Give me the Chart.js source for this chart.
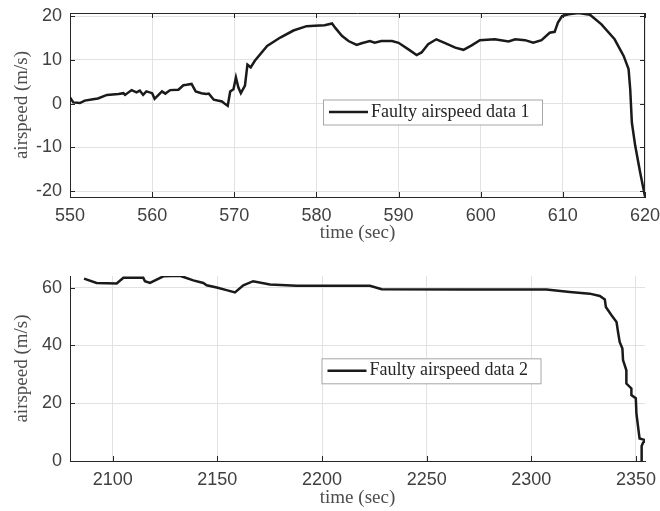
<!DOCTYPE html>
<html>
<head>
<meta charset="utf-8">
<script src="https://cdn.jsdelivr.net/npm/chart.js@4.4.1/dist/chart.umd.min.js"></script>
<style>
  html, body { margin: 0; padding: 0; background: #fff; }
  canvas { display: block; }
</style>
</head>
<body>
<canvas id="topChart" width="660" height="255"></canvas>
<canvas id="bottomChart" width="660" height="256"></canvas>
<script>
// flight 1: airspeed log around the first fault
const time1 = [550.0, 550.4, 551.2, 551.8, 552.8, 553.4, 554.5, 555.9, 556.5, 556.7, 557.5, 558.1, 558.5, 558.9,
  559.3, 560.0, 560.3, 561.2, 561.6, 562.2, 563.2, 563.8, 564.2, 564.8, 565.3, 566.0, 566.6, 566.9, 567.5,
  568.5, 568.9, 569.2, 569.5, 569.9, 570.2, 570.5, 570.8, 571.3, 571.6, 572.0, 572.5, 574.0, 575.6, 577.2,
  578.8, 579.8, 581.0, 581.9, 582.3, 583.1, 583.9, 584.9, 585.5, 586.5, 587.1, 587.9, 589.2, 590.0, 591.2,
  592.2, 592.8, 593.6, 594.6, 595.6, 596.9, 597.9, 598.9, 599.9, 601.7, 603.4, 604.2, 605.4, 606.4, 607.4,
  608.4, 609.0, 609.4, 609.9, 610.7, 611.9, 613.3, 614.7, 616.3, 617.4, 618.0, 618.2, 618.4, 618.8, 619.4, 620.0];
const speed1 = [1.4, 0.3, 0.15, 0.7, 1.0, 1.2, 2.0, 2.2, 2.4, 2.0, 3.1, 2.6, 3.0, 2.0,
  2.8, 2.4, 1.1, 2.8, 2.3, 3.1, 3.2, 4.2, 4.3, 4.5, 2.8, 2.4, 2.2, 2.3, 0.9,
  0.5, -0.1, -0.5, 2.8, 3.3, 6.0, 3.7, 2.4, 4.1, 8.9, 8.3, 9.8, 13.2, 15.1, 16.7,
  17.7, 17.8, 17.9, 18.3, 17.3, 15.5, 14.3, 13.4, 13.8, 14.3, 13.9, 14.3, 14.3, 13.9, 12.4,
  11.1, 11.7, 13.6, 14.7, 13.9, 12.8, 12.3, 13.3, 14.5, 14.7, 14.2, 14.7, 14.5, 13.9, 14.5,
  16.2, 16.4, 18.5, 20.0, 20.4, 20.7, 20.3, 18.1, 14.7, 10.9, 7.9, 3.3, -4.3, -9.5, -15.6, -21.2];

// flight 2: airspeed log around the second fault
const time2 = [2086.3, 2092.3, 2101.9, 2105.1, 2114.6, 2115.4, 2117.8, 2124.2, 2132.1, 2138.5, 2143.3, 2144.9,
  2149.7, 2154.4, 2158.4, 2162.4, 2167.1, 2175.1, 2187.9, 2222.9, 2228.5, 2267.4, 2307.2, 2318.4, 2327.9,
  2332.7, 2335.1, 2335.6, 2338.3, 2340.7, 2341.4, 2342.2, 2343.5, 2343.8, 2345.4, 2345.4, 2347.8, 2347.8,
  2349.9, 2350.2, 2351.0, 2351.7, 2353.6, 2354.8, 2353.4, 2352.7, 2352.7];
const speed2 = [63.1, 61.6, 61.4, 63.4, 63.4, 62.2, 61.6, 63.9, 64.1, 62.5, 61.6, 60.8,
  60.0, 59.1, 58.3, 60.8, 62.2, 61.1, 60.6, 60.6, 59.4, 59.3, 59.3, 58.5, 57.9,
  57.1, 55.9, 53.3, 50.4, 48.1, 44.7, 41.2, 38.9, 34.9, 31.4, 26.8, 25.1, 22.8,
  21.7, 16.5, 11.8, 7.8, 7.4, 7.1, 6.4, 5.2, -1];

const xTicks1 = [550, 560, 570, 580, 590, 600, 610, 620];
const yTicks1 = [-20, -10, 0, 10, 20];
const xTicks2 = [2100, 2150, 2200, 2250, 2300, 2350];
const yTicks2 = [0, 20, 40, 60];

const INK = "#262626";
const LABEL = "#404040";
const tickFont = { family: "'Liberation Sans', Arial, sans-serif", size: 18 };
const titleFont = { family: "'Liberation Serif', 'Times New Roman', serif", size: 19 };

const toPoints = (xs, ys) => xs.map((x, i) => ({ x, y: ys[i] }));

// axis box, inward tick marks and the boxed legend
const frame = {
  id: "frame",
  afterDraw(chart, args, opts) {
    const { ctx, chartArea: a, scales: { x, y } } = chart;
    const len = 5;
    ctx.save();
    ctx.strokeStyle = INK;
    ctx.lineWidth = 1;
    ctx.beginPath();
    x.ticks.forEach(t => {
      const px = Math.round(x.getPixelForValue(t.value)) + 0.5;
      ctx.moveTo(px, a.bottom); ctx.lineTo(px, a.bottom - len);
      if (opts.box) { ctx.moveTo(px, a.top); ctx.lineTo(px, a.top + len); }
    });
    y.ticks.forEach(t => {
      const py = Math.round(y.getPixelForValue(t.value)) + 0.5;
      ctx.moveTo(a.left, py); ctx.lineTo(a.left + len, py);
      if (opts.box) { ctx.moveTo(a.right, py); ctx.lineTo(a.right - len, py); }
    });
    if (opts.box) {
      ctx.moveTo(a.left, Math.round(a.top) + 0.5);
      ctx.lineTo(a.right, Math.round(a.top) + 0.5);
      ctx.moveTo(Math.round(a.right) - 0.5, a.top);
      ctx.lineTo(Math.round(a.right) - 0.5, a.bottom);
    }
    ctx.stroke();

    const lg = opts.legend;
    if (lg) {
      ctx.fillStyle = "#fff";
      ctx.fillRect(lg.left, lg.top, lg.width, lg.height);
      ctx.strokeStyle = "#a6a6a6";
      ctx.strokeRect(lg.left + 0.5, lg.top + 0.5, lg.width, lg.height);
      const mid = lg.top + lg.height / 2;
      ctx.strokeStyle = "#1a1a1a";
      ctx.lineWidth = 2.5;
      ctx.beginPath();
      ctx.moveTo(lg.left + 6, mid);
      ctx.lineTo(lg.left + 45, mid);
      ctx.stroke();
      ctx.fillStyle = INK;
      ctx.font = `18px ${titleFont.family}`;
      ctx.textBaseline = "alphabetic";
      ctx.fillText(lg.text, lg.left + 48, lg.top + lg.height - 8);
    }
    ctx.restore();
  }
};

function makeChart(id, cfg) {
  return new Chart(document.getElementById(id), {
    type: "scatter",
    data: {
      datasets: [{
        data: toPoints(cfg.xs, cfg.ys),
        showLine: true,
        borderColor: "#1a1a1a",
        borderWidth: 2.5,
        pointRadius: 0,
        tension: 0
      }]
    },
    options: {
      responsive: false,
      animation: false,
      layout: { padding: { top: cfg.padTop, right: 15, bottom: 0, left: 0 } },
      plugins: {
        legend: { display: false },
        tooltip: { enabled: false },
        frame: { box: cfg.box, legend: cfg.legend }
      },
      scales: {
        x: {
          type: "linear",
          min: cfg.xMin,
          max: cfg.xMax,
          afterBuildTicks: s => { s.ticks = cfg.xTicks.map(value => ({ value })); },
          afterFit: s => {
            s.height = cfg.xHeight;
            // the end labels may hang past the plot edge
            s.paddingLeft = 0;
            s.paddingRight = 0;
          },
          grid: { color: "#e2e2e2", drawTicks: false },
          border: { color: INK },
          ticks: { color: LABEL, font: tickFont, padding: 8.5, maxRotation: 0, callback: v => String(v) },
          title: { display: true, text: "time (sec)", color: "#4d4d4d", font: titleFont,
            padding: { top: 0, bottom: cfg.titlePad } }
        },
        y: {
          min: cfg.yMin,
          max: cfg.yMax,
          afterBuildTicks: s => { s.ticks = cfg.yTicks.map(value => ({ value })); },
          afterFit: s => {
            s.width = 70;
            s.paddingTop = 0;
            s.paddingBottom = 0;
          },
          grid: { color: "#e2e2e2", drawTicks: false },
          border: { color: INK },
          ticks: { color: LABEL, font: tickFont, padding: 8, callback: v => String(v) },
          title: { display: true, text: "airspeed (m/s)", color: "#4d4d4d", font: titleFont,
            padding: { top: 11, bottom: 0 } }
        }
      }
    },
    plugins: [frame]
  });
}

makeChart("topChart", {
  xs: time1, ys: speed1,
  xMin: 550, xMax: 620, yMin: -21.3, yMax: 20.7,
  xTicks: xTicks1, yTicks: yTicks1,
  padTop: 13, xHeight: 58, titlePad: 11, box: true,
  legend: { left: 323, top: 99.5, width: 219, height: 25, text: "Faulty airspeed data 1" }
});

makeChart("bottomChart", {
  xs: time2, ys: speed2,
  xMin: 2079.6, xMax: 2354.3, yMin: 0, yMax: 64,
  xTicks: xTicks2, yTicks: yTicks2,
  padTop: 21, xHeight: 50, titlePad: 2, box: false,
  legend: { left: 321.5, top: 103.3, width: 219, height: 25, text: "Faulty airspeed data 2" }
});
</script>
</body>
</html>
